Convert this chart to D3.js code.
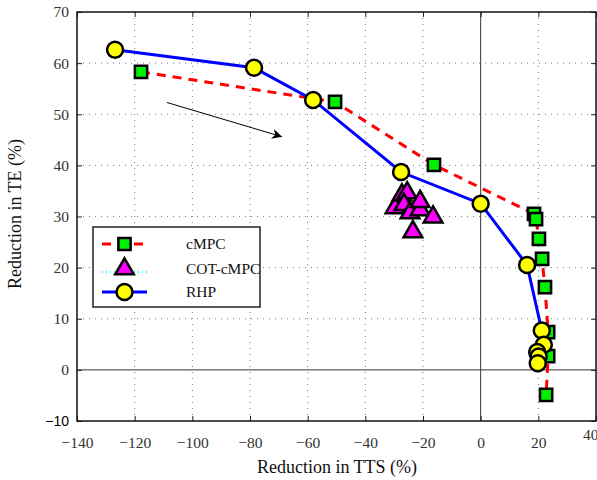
<!DOCTYPE html>
<html>
<head>
<meta charset="utf-8">
<script src="https://cdn.jsdelivr.net/npm/d3@7"></script>
<style>
  body { margin: 0; background: #fff; }
</style>
</head>
<body>
<script>
// tick values
var xTicks = [-140, -120, -100, -80, -60, -40, -20, 0, 20, 40];
var yTicks = [-10, 0, 10, 20, 30, 40, 50, 60, 70];

// cMPC (red dashed, green squares)
var cmpcX = [-117.8, -50.5, -16.2, 18.5, 19.2, 20.2, 21.3, 22.3, 23.4, 23.4, 22.7];
var cmpcY = [58.3, 52.4, 40.1, 30.5, 29.5, 25.6, 21.7, 16.2, 7.4, 2.7, -4.9];

// COT-cMPC (cyan dotted, magenta triangles)
var cotX = [-29.7, -27.3, -25.5, -26.6, -24.5, -23.5, -21.0, -21.0, -16.5];
var cotY = [31.7, 34.2, 34.6, 32.3, 30.7, 27.0, 31.3, 32.9, 29.9];

// RHP (blue, yellow circles)
var rhpX = [-126.8, -78.6, -58.1, -27.6, 0, 16.1, 21.2, 21.9, 19.6, 20.1, 19.8];
var rhpY = [62.6, 59.1, 52.8, 38.7, 32.5, 20.5, 7.7, 4.9, 3.5, 2.6, 1.3];

// arrow start / end in data units
var arrowX = [-108.8, -68.9];
var arrowY = [52.3, 45.6];

var legendNames = ["cMPC", "COT-cMPC", "RHP"];

var width = 597;
var height = 480;
var serif = "'Liberation Serif', 'DejaVu Serif', 'Times New Roman', serif";

var svg = d3.select("body")
            .append("svg")
            .attr("width", width)
            .attr("height", height)
            .style("font-family", serif)

var xScale = d3.scaleLinear().domain([-140, 40]).range([77, 596]);
var yScale = d3.scaleLinear().domain([-10, 70]).range([421, 12]);

function pts(xs, ys) {
  return xs.map(function(d, i) { return [d, ys[i]]; });
}

//grid
svg.append("g").selectAll("line")
   .data(xTicks.filter(function(d) { return d != 0 && d != -140 && d != 40; }))
   .enter().append("line")
   .attr("x1", function(d) { return xScale(d); })
   .attr("x2", function(d) { return xScale(d); })
   .attr("y1", yScale(70)).attr("y2", yScale(-10))
   .attr("stroke", "#777").attr("stroke-width", 1).attr("stroke-dasharray", "1,5")
svg.append("g").selectAll("line")
   .data(yTicks.filter(function(d) { return d != 0 && d != -10 && d != 70; }))
   .enter().append("line")
   .attr("y1", function(d) { return yScale(d); })
   .attr("y2", function(d) { return yScale(d); })
   .attr("x1", xScale(-140)).attr("x2", xScale(40))
   .attr("stroke", "#777").attr("stroke-width", 1).attr("stroke-dasharray", "1,5")

// zero lines
svg.append("line")
   .attr("x1", xScale(0)).attr("x2", xScale(0))
   .attr("y1", yScale(70)).attr("y2", yScale(-10))
   .attr("stroke", "#333").attr("stroke-width", 1)
svg.append("line")
   .attr("y1", yScale(0)).attr("y2", yScale(0))
   .attr("x1", xScale(-140)).attr("x2", xScale(40))
   .attr("stroke", "#333").attr("stroke-width", 1)

// axes with inner ticks
var xAxis = d3.axisBottom(xScale).tickValues(xTicks).tickSize(-5).tickPadding(16);
var yAxis = d3.axisLeft(yScale).tickValues(yTicks).tickSize(-5).tickPadding(8);

var gx = svg.append("g")
   .attr("transform", "translate(0," + yScale(-10) + ")")
   .call(xAxis)
var gy = svg.append("g")
   .attr("transform", "translate(" + xScale(-140) + ",0)")
   .call(yAxis)
svg.append("g")
   .attr("transform", "translate(0," + yScale(70) + ")")
   .call(d3.axisTop(xScale).tickValues(xTicks).tickSize(-5).tickFormat(""))
svg.append("g")
   .attr("transform", "translate(" + xScale(40) + ",0)")
   .call(d3.axisRight(yScale).tickValues(yTicks).tickSize(-5).tickFormat(""))

svg.selectAll(".domain").remove()
svg.selectAll(".tick line").attr("stroke", "#222")
svg.selectAll("g").attr("font-family", null)
svg.selectAll(".tick text")
   .style("font-family", serif)
   .style("font-size", "15.5px")
   .attr("fill", "#333")
gx.selectAll(".tick text").filter(function(d) { return d == 40; })
   .attr("text-anchor", "end")
   .attr("x", 2)
   .attr("y", 3)
   .attr("dy", "1.05em")
gy.selectAll(".tick text").filter(function(d) { return d == -10; })
   .style("font-family", "'Liberation Sans', Arial, sans-serif")
   .style("font-size", "14px")
   .attr("fill", "#000")

// frame
svg.append("rect")
   .attr("x", xScale(-140)).attr("y", yScale(70))
   .attr("width", xScale(40) - xScale(-140))
   .attr("height", yScale(-10) - yScale(70))
   .attr("fill", "none").attr("stroke", "#111").attr("stroke-width", 1.5)

var line = d3.line()
   .x(function(d) { return xScale(d[0]); })
   .y(function(d) { return yScale(d[1]); })

// lines
svg.append("path").datum(pts(cotX, cotY))
   .attr("d", line).attr("fill", "none")
   .attr("stroke", "#00ffff").attr("stroke-width", 2).attr("stroke-dasharray", "1,3")
svg.append("path").datum(pts(cmpcX, cmpcY))
   .attr("d", line).attr("fill", "none")
   .attr("stroke", "#ff0000").attr("stroke-width", 3).attr("stroke-dasharray", "9,7")
svg.append("path").datum(pts(rhpX, rhpY))
   .attr("d", line).attr("fill", "none")
   .attr("stroke", "#0000ff").attr("stroke-width", 3)

var sq = d3.symbol().type(d3.symbolSquare).size(150);
var tri = d3.symbol().type(d3.symbolTriangle).size(150);

//markers
svg.append("g").selectAll("path")
   .data(pts(cotX, cotY)).enter().append("path")
   .attr("d", tri)
   .attr("transform", function(d) { return "translate(" + xScale(d[0]) + "," + yScale(d[1]) + ")"; })
   .attr("fill", "#ff00ff").attr("stroke", "#000").attr("stroke-width", 2.5)
svg.append("g").selectAll("path")
   .data(pts(cmpcX, cmpcY)).enter().append("path")
   .attr("d", sq)
   .attr("transform", function(d) { return "translate(" + xScale(d[0]) + "," + yScale(d[1]) + ")"; })
   .attr("fill", "#00ee00").attr("stroke", "#000").attr("stroke-width", 2.5)
svg.append("g").selectAll("circle")
   .data(pts(rhpX, rhpY)).enter().append("circle")
   .attr("cx", function(d) { return xScale(d[0]); })
   .attr("cy", function(d) { return yScale(d[1]); })
   .attr("r", 8)
   .attr("fill", "#ffff00").attr("stroke", "#000").attr("stroke-width", 2.5)

// arrow
svg.append("defs").append("marker")
   .attr("id", "head")
   .attr("viewBox", "0 0 10 10")
   .attr("refX", 10).attr("refY", 5)
   .attr("markerWidth", 15).attr("markerHeight", 10)
   .attr("markerUnits", "userSpaceOnUse")
   .attr("orient", "auto")
   .append("path").attr("d", "M0,0 L10,5 L0,10 L3,5 Z").attr("fill", "#000")
svg.append("line")
   .attr("x1", xScale(arrowX[0])).attr("y1", yScale(arrowY[0]))
   .attr("x2", xScale(arrowX[1])).attr("y2", yScale(arrowY[1]))
   .attr("stroke", "#000").attr("stroke-width", 1)
   .attr("marker-end", "url(#head)")

// legend
var lg = svg.append("g")
lg.append("rect")
  .attr("x", 93).attr("y", 227).attr("width", 167).attr("height", 80)
  .attr("fill", "#fff").attr("stroke", "#222").attr("stroke-width", 1.5)
var rowY = [244, 269, 292];
// cMPC
lg.append("line").attr("x1", 102).attr("x2", 147).attr("y1", rowY[0]).attr("y2", rowY[0])
  .attr("stroke", "#ff0000").attr("stroke-width", 3).attr("stroke-dasharray", "9,7")
lg.append("path").attr("d", sq).attr("transform", "translate(124.5," + rowY[0] + ")")
  .attr("fill", "#00ee00").attr("stroke", "#000").attr("stroke-width", 2.5)
// COT-cMPC
lg.append("line").attr("x1", 102).attr("x2", 147).attr("y1", rowY[1] + 3).attr("y2", rowY[1] + 3)
  .attr("stroke", "#00ffff").attr("stroke-width", 2).attr("stroke-dasharray", "1,3")
lg.append("path").attr("d", tri).attr("transform", "translate(124.5," + rowY[1] + ")")
  .attr("fill", "#ff00ff").attr("stroke", "#000").attr("stroke-width", 2.5)
// RHP
lg.append("line").attr("x1", 102).attr("x2", 147).attr("y1", rowY[2]).attr("y2", rowY[2])
  .attr("stroke", "#0000ff").attr("stroke-width", 3)
lg.append("circle").attr("cx", 124.5).attr("cy", rowY[2]).attr("r", 8)
  .attr("fill", "#ffff00").attr("stroke", "#000").attr("stroke-width", 2.5)
lg.selectAll("text.lab").data(legendNames).enter().append("text")
  .attr("x", 186)
  .attr("y", function(d, i) { return rowY[i]; })
  .attr("dy", "0.35em")
  .style("font-size", "15.5px")
  .attr("fill", "#111")
  .text(function(d) { return d; })

// axis titles
svg.append("text")
   .attr("x", 337).attr("y", 473)
   .attr("text-anchor", "middle")
   .style("font-size", "18px")
   .attr("fill", "#111")
   .text("Reduction in TTS (%)")
svg.append("text")
   .attr("transform", "translate(21,214) rotate(-90)")
   .attr("text-anchor", "middle")
   .style("font-size", "18px")
   .attr("fill", "#111")
   .text("Reduction in TE (%)")
</script>
</body>
</html>
